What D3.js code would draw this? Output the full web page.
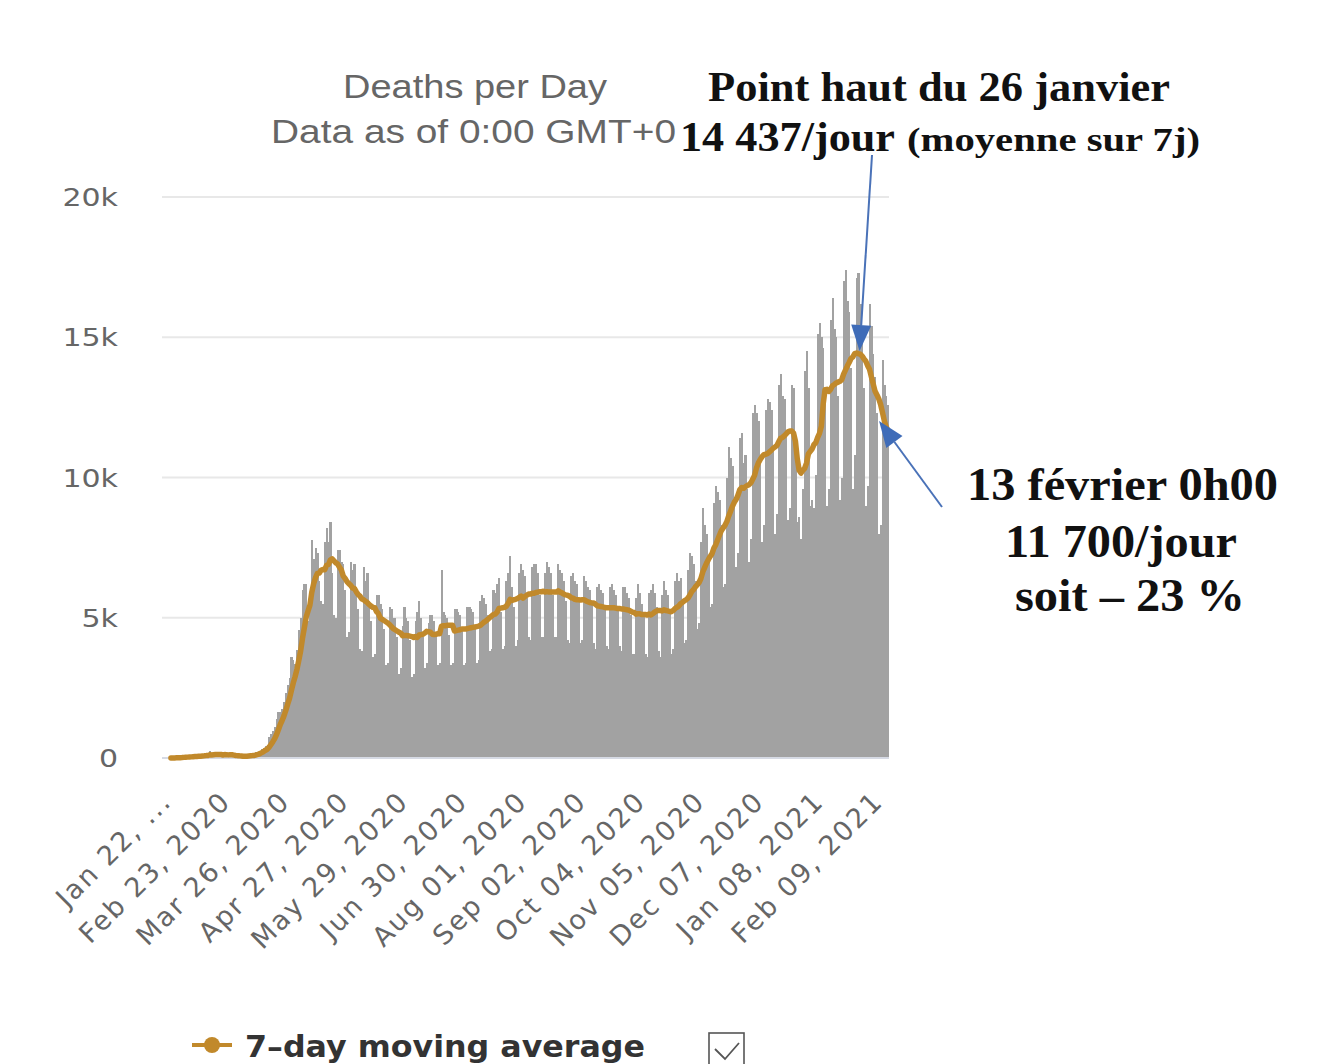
<!DOCTYPE html>
<html>
<head>
<meta charset="utf-8">
<script src="https://cdn.jsdelivr.net/npm/d3@7"></script>
<style>
  body { margin: 0; background: #fff; }
  svg { display: block; }
</style>
</head>
<body>
<div id="chart"></div>
<script>
// daily deaths, world, Jan 22 2020 -> Feb 12 2021 (one row = one week, Wed..Tue)
var dailyDeaths = [
  0, 8, 16, 15, 24, 26, 26,
  38, 43, 46, 45, 57, 64, 66,
  73, 73, 86, 89, 97, 108, 97,
  254, 13, 143, 142, 105, 98, 136,
  115, 118, 109, 97, 150, 71, 64,
  37, 58, 67, 73, 69, 71, 88,
  84, 100, 107, 107, 228, 207, 262,
  324, 358, 443, 365, 761, 855, 969,
  1090, 1381, 1651, 1654, 1761, 2010, 2333,
  2620, 2869, 3594, 3503, 3355, 3848, 4580,
  4990, 5990, 6220, 6200, 4870, 5290, 7770,
  7100, 7500, 7300, 6300, 5600, 5500, 7700,
  8200, 7700, 8400, 6600, 5100, 5000, 7400,
  7400, 7000, 6900, 6000, 4300, 4500, 7000,
  6700, 6900, 6100, 5300, 3900, 3800, 6800,
  6300, 6600, 5600, 4900, 3600, 3700, 5800,
  5800, 5500, 5300, 4600, 3300, 3400, 5400,
  5300, 5000, 5000, 4300, 3000, 3200, 4700,
  5400, 5000, 4900, 4200, 2900, 3000, 4900,
  5200, 5600, 5000, 4300, 3200, 3400, 4800,
  5100, 5100, 4900, 4400, 3300, 3400, 6700,
  5200, 5100, 5000, 4400, 3300, 3400, 5300,
  5300, 5200, 5100, 4600, 3300, 3400, 5400,
  5400, 5300, 5200, 4700, 3400, 3500, 5600,
  5800, 5700, 5500, 5100, 3800, 3900, 6000,
  5900, 6200, 6400, 5200, 3900, 4000, 6300,
  6600, 7200, 6100, 5400, 4000, 4200, 6600,
  6900, 6700, 6500, 5700, 4300, 4200, 6800,
  6900, 6900, 6600, 5800, 4300, 4300, 6600,
  7000, 6800, 6600, 5800, 4300, 4300, 6900,
  6700, 6600, 6300, 5600, 4200, 4100, 6500,
  6600, 6300, 6200, 5600, 4100, 4200, 6500,
  6300, 6100, 6000, 5500, 4100, 3900, 6100,
  6200, 6000, 5900, 5400, 4000, 3900, 6100,
  6200, 6000, 5800, 5300, 4000, 3800, 6100,
  6100, 5900, 5700, 5100, 3700, 3700, 5700,
  6200, 5900, 5500, 5100, 3700, 3600, 5900,
  6000, 6200, 5900, 5400, 3800, 3600, 5800,
  6300, 6000, 5800, 5300, 3700, 3900, 6300,
  6600, 6300, 6400, 5600, 4100, 4200, 6700,
  7300, 7200, 6900, 6300, 4600, 4800, 7700,
  8900, 8300, 8000, 7200, 5400, 5500, 9100,
  9700, 9500, 9200, 8300, 6100, 6200, 10000,
  11100, 10700, 10400, 9300, 6800, 7300, 11400,
  11600, 10500, 10800, 9600, 7000, 7800, 12300,
  12600, 12300, 12000, 10500, 7700, 8300, 12400,
  12800, 12700, 12400, 11000, 8000, 8700, 13300,
  13700, 12900, 12800, 11500, 8500, 8900, 13300,
  13200, 10900, 8400, 8600, 7800, 9600, 13800,
  14500, 13200, 9000, 9200, 8900, 10100, 15100,
  15500, 15000, 14600, 12700, 9000, 9600, 15600,
  16400, 15300, 15000, 12900, 9200, 10000, 17000,
  17400, 16300, 15900, 13900, 9600, 10800, 17100,
  17300, 16200, 15400, 13200, 9000, 9700, 16200,
  15400, 14400, 13600, 12300, 8000, 8300, 14200,
  13300, 12900, 12600
];

// 7-day moving average, same days
var movingAvg = [
  0, 1, 3, 6, 9, 13, 16,
  22, 27, 31, 35, 40, 46, 51,
  56, 61, 66, 73, 78, 85, 89,
  115, 106, 114, 122, 123, 122, 127,
  107, 122, 118, 111, 118, 114, 103,
  92, 84, 78, 74, 63, 63, 66,
  73, 79, 85, 89, 112, 132, 156,
  191, 228, 276, 312, 389, 481, 582,
  692, 838, 1010, 1194, 1337, 1502, 1697,
  1916, 2128, 2406, 2670, 2898, 3160, 3481,
  3820, 4266, 4641, 5026, 5243, 5449, 5904,
  6206, 6421, 6576, 6590, 6694, 6724, 6714,
  6871, 6900, 7057, 7100, 7029, 6957, 6914,
  6800, 6700, 6486, 6400, 6286, 6214, 6157,
  6057, 6043, 5929, 5829, 5771, 5671, 5643,
  5586, 5543, 5471, 5414, 5371, 5357, 5214,
  5143, 4986, 4943, 4900, 4857, 4814, 4757,
  4686, 4614, 4571, 4529, 4486, 4457, 4357,
  4371, 4371, 4357, 4343, 4329, 4300, 4329,
  4300, 4386, 4400, 4414, 4457, 4514, 4500,
  4486, 4414, 4400, 4414, 4429, 4429, 4700,
  4714, 4714, 4729, 4729, 4729, 4729, 4529,
  4543, 4557, 4571, 4600, 4600, 4600, 4614,
  4629, 4643, 4657, 4671, 4686, 4700, 4729,
  4786, 4843, 4886, 4943, 5000, 5057, 5114,
  5129, 5200, 5329, 5343, 5357, 5371, 5414,
  5514, 5657, 5614, 5643, 5657, 5686, 5729,
  5771, 5700, 5757, 5800, 5843, 5843, 5871,
  5871, 5900, 5914, 5929, 5929, 5943, 5914,
  5929, 5914, 5914, 5914, 5914, 5914, 5957,
  5914, 5886, 5843, 5814, 5800, 5771, 5714,
  5700, 5657, 5643, 5643, 5629, 5643, 5643,
  5600, 5571, 5543, 5529, 5529, 5486, 5429,
  5414, 5400, 5386, 5371, 5357, 5357, 5357,
  5357, 5357, 5343, 5329, 5329, 5314, 5314,
  5300, 5286, 5271, 5243, 5200, 5186, 5129,
  5143, 5143, 5114, 5114, 5114, 5100, 5129,
  5100, 5143, 5200, 5243, 5257, 5257, 5243,
  5286, 5257, 5243, 5229, 5214, 5257, 5329,
  5371, 5414, 5500, 5543, 5600, 5643, 5700,
  5800, 5929, 6000, 6100, 6171, 6257, 6400,
  6629, 6786, 6943, 7071, 7186, 7286, 7486,
  7600, 7771, 7943, 8100, 8200, 8300, 8429,
  8629, 8800, 8971, 9114, 9214, 9371, 9571,
  9643, 9614, 9671, 9714, 9743, 9814, 9943,
  10086, 10343, 10514, 10643, 10743, 10814, 10829,
  10857, 10914, 10971, 11043, 11086, 11143, 11271,
  11400, 11429, 11486, 11557, 11629, 11657, 11657,
  11586, 11300, 10671, 10257, 10157, 10257, 10329,
  10514, 10843, 10929, 11014, 11171, 11243, 11429,
  11571, 11829, 12629, 13129, 13143, 13071, 13143,
  13271, 13314, 13371, 13400, 13429, 13486, 13686,
  13829, 13971, 14100, 14243, 14300, 14414, 14437,
  14414, 14400, 14329, 14229, 14143, 13986, 13857,
  13586, 13329, 13071, 12943, 12800, 12600, 12314,
  12014, 11800, 11657
];

var tickDates = ["2020-01-22", "2020-02-23", "2020-03-26", "2020-04-27", "2020-05-29", "2020-06-30",
  "2020-08-01", "2020-09-02", "2020-10-04", "2020-11-05", "2020-12-07", "2021-01-08", "2021-02-09"];
var tickLabels = ["Jan 22, ...", "Feb 23, 2020", "Mar 26, 2020", "Apr 27, 2020", "May 29, 2020", "Jun 30, 2020",
  "Aug 01, 2020", "Sep 02, 2020", "Oct 04, 2020", "Nov 05, 2020", "Dec 07, 2020", "Jan 08, 2021", "Feb 09, 2021"];
var yTicks = [0, 5000, 10000, 15000, 20000];
var yTickLabels = ["0", "5k", "10k", "15k", "20k"];

var peakDate = "2021-01-26";
var lastDate = "2021-02-12";

var fmt = d3.timeFormat("%Y-%m-%d");
var days = d3.timeDay.range(new Date(2020, 0, 22), new Date(2021, 1, 13)).map(fmt);

var W = 1328, H = 1064;
var svg = d3.select("#chart").append("svg")
    .attr("width", W)
    .attr("height", H);

var x = d3.scaleBand().domain(days).range([170, 889]).padding(0);
var y = d3.scaleLinear().domain([0, 20000]).range([758, 197]);
var cx = function(d) { return x(d) + x.bandwidth() / 2; };

// grid
svg.append("g").selectAll("line")
  .data(yTicks.slice(1))
  .join("line")
    .attr("x1", 162).attr("x2", 889)
    .attr("y1", function(d) { return y(d); })
    .attr("y2", function(d) { return y(d); })
    .attr("stroke", "#e8e8e8")
    .attr("stroke-width", 2);

// y labels (slightly widened glyphs like the screenshot)
svg.append("g").selectAll("text")
  .data(yTicks)
  .join("text")
    .attr("transform", function(d) { return "translate(118," + (y(d) + 9) + ") scale(1.2,1)"; })
    .attr("text-anchor", "end")
    .style("font-family", "DejaVu Sans")
    .style("font-size", "25px")
    .attr("fill", "#666")
    .text(function(d, i) { return yTickLabels[i]; });

// bars
svg.append("g").attr("shape-rendering", "crispEdges").selectAll("rect")
  .data(dailyDeaths)
  .join("rect")
    .attr("x", function(d, i) { return x(days[i]); })
    .attr("width", x.bandwidth() + 0.3)
    .attr("y", function(d) { return y(d); })
    .attr("height", function(d) { return y(0) - y(d); })
    .attr("fill", "#a2a2a2");

// axis line
svg.append("line")
  .attr("x1", 162).attr("x2", 889)
  .attr("y1", y(0)).attr("y2", y(0))
  .attr("stroke", "#d6dae4")
  .attr("stroke-width", 2);

// moving average
svg.append("path")
  .datum(movingAvg)
  .attr("fill", "none")
  .attr("stroke", "#c1892b")
  .attr("stroke-width", 5.5)
  .attr("stroke-linejoin", "round")
  .attr("stroke-linecap", "round")
  .attr("d", d3.line()
    .x(function(d, i) { return cx(days[i]); })
    .y(function(d) { return y(d); }));

// x labels
svg.append("g").selectAll("text")
  .data(tickDates)
  .join("text")
    .attr("transform", function(d) { return "translate(" + (cx(d) + 2) + ",803) rotate(-45)"; })
    .attr("text-anchor", "end")
    .style("font-family", "DejaVu Sans")
    .style("font-size", "27px")
    .style("letter-spacing", "2px")
    .attr("fill", "#666")
    .text(function(d, i) { return tickLabels[i]; });

// titles
svg.append("text").attr("x", 343).attr("y", 98)
  .attr("textLength", 264).attr("lengthAdjust", "spacingAndGlyphs")
  .style("font-family", "Liberation Sans").style("font-size", "34px")
  .attr("fill", "#666").text("Deaths per Day");
svg.append("text").attr("x", 271).attr("y", 143)
  .attr("textLength", 405).attr("lengthAdjust", "spacingAndGlyphs")
  .style("font-family", "Liberation Sans").style("font-size", "34px")
  .attr("fill", "#666").text("Data as of 0:00 GMT+0");

// annotations
function note(txt, x0, y0, len, size) {
  svg.append("text").attr("x", x0).attr("y", y0)
    .attr("textLength", len).attr("lengthAdjust", "spacingAndGlyphs")
    .style("font-family", "Liberation Serif").style("font-weight", "bold")
    .style("font-size", size + "px")
    .attr("fill", "#111").text(txt);
}
note("Point haut du 26 janvier", 708, 101, 462, 42);
note("14 437/jour", 680, 151, 215, 42);
note("(moyenne sur 7j)", 907, 151, 293, 33);
note("13 février 0h00", 967, 500, 311, 46);
note("11 700/jour", 1005, 557, 232, 46);
note("soit \u2013 23 %", 1015, 611, 230, 46);

function arrow(x1, y1, x2, y2) {
  var a = Math.atan2(y2 - y1, x2 - x1), len = 26, half = 10;
  var bx = x2 - len * Math.cos(a), by = y2 - len * Math.sin(a);
  svg.append("line").attr("x1", x1).attr("y1", y1).attr("x2", bx).attr("y2", by)
    .attr("stroke", "#4a72b8").attr("stroke-width", 2);
  svg.append("path")
    .attr("d", "M" + x2 + "," + y2 +
      "L" + (bx + half * Math.sin(a)) + "," + (by - half * Math.cos(a)) +
      "L" + (bx - half * Math.sin(a)) + "," + (by + half * Math.cos(a)) + "Z")
    .attr("fill", "#3f6cb8");
}
var peakI = days.indexOf(peakDate), lastI = days.indexOf(lastDate);
arrow(872, 155, cx(peakDate) + 3, y(movingAvg[peakI]) - 2);
arrow(942, 507, cx(lastDate) - 9, y(movingAvg[lastI]) - 10);

// legend
var lg = svg.append("g");
lg.append("line").attr("x1", 192).attr("x2", 232).attr("y1", 1045).attr("y2", 1045)
  .attr("stroke", "#c1892b").attr("stroke-width", 4);
lg.append("circle").attr("cx", 212).attr("cy", 1045).attr("r", 8).attr("fill", "#c1892b");
lg.append("text").attr("x", 245).attr("y", 1057)
  .attr("textLength", 400).attr("lengthAdjust", "spacingAndGlyphs")
  .style("font-family", "DejaVu Sans").style("font-weight", "bold").style("font-size", "30px")
  .attr("fill", "#333").text("7\u2013day moving average");
lg.append("rect").attr("x", 709).attr("y", 1033).attr("width", 35).attr("height", 36)
  .attr("fill", "#fff").attr("stroke", "#555").attr("stroke-width", 1.6);
lg.append("path").attr("d", "M715,1049 L725,1059 L739,1043")
  .attr("fill", "none").attr("stroke", "#555").attr("stroke-width", 1.8);
</script>
</body>
</html>
